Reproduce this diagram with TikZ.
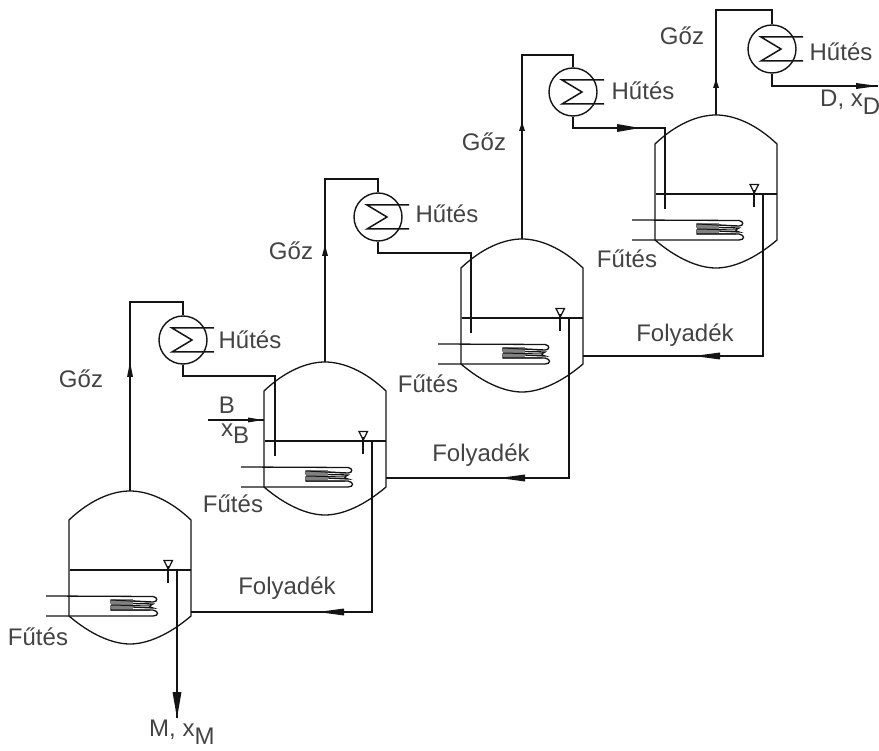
\documentclass[tikz,border=0pt]{standalone}
\usepackage{fontspec}
\setmainfont{Liberation Sans}
\usetikzlibrary{calc}
\definecolor{ink}{gray}{0.08}
\tikzset{
  pipe/.style={draw=ink,line width=1.5pt},
  shell/.style={draw=ink,line width=1.3pt},
  lbl/.style={font=\fontsize{24}{26}\selectfont,text=ink!80,inner sep=0pt},
  cond/.style={circle,draw=ink,line width=1.4pt,minimum size=48pt,inner sep=0pt}
}
% #1 name, #2 dx, #3 dy
\newcommand{\vessel}[3]{%
 \begin{scope}[shift={(#2,#3)}]
  \coordinate (#1top) at (130,491);
  \coordinate (#1lvlL) at (70,570);
  \coordinate (#1lvlR) at (191,570);
  \coordinate (#1pipe) at (177,570);
  \coordinate (#1feed) at (69,550);
  \draw[shell] (69,520) .. controls (90,500) and (112,491) .. (#1top) .. controls (148,491) and (170,500) .. (191,520)
    -- (191,616) .. controls (170,634) and (148,644) .. (130,644) .. controls (112,644) and (90,634) .. (69,616) -- cycle;
  \draw[pipe] (#1lvlL) -- (#1lvlR);
  % level mark
  \draw[pipe,line width=1.2pt] (164,560.5) -- (172.5,560.5) -- (168.2,569) -- cycle;
  \draw[pipe,line width=1.8pt] (168.2,566) -- (168.2,583);
  % heating coil
  \coordinate (#1coilA) at (46,596);
  \coordinate (#1coilB) at (46,616);
  \draw[pipe,line width=1.3pt] (#1coilA) -- (153,596.5) .. controls (158,597) and (158,602) .. (153,602) -- (111,600) -- (111,603) -- (153,604) .. controls (149,606) and (149,607) .. (153,608) -- (111,606) -- (111,610) -- (153,610) .. controls (159,611) and (159,616) .. (153,616) -- (#1coilB);
  \fill[gray] (111,599) rectangle (133,609);
  \draw[draw=ink,line width=1pt] (111,600) -- (150,602) (111,605) -- (150,606) (111,610) -- (150,610);
 \end{scope}}
% #1 name, #2 x, #3 y
\newcommand{\condenser}[3]{%
  \node[cond] (#1) at (#2,#3) {};
  \draw[pipe] ($(#1.center)+(31,-12)$) -- ($(#1.center)+(-11,-12)$) -- ($(#1.center)+(9,0)$) -- ($(#1.center)+(-11,12)$) -- ($(#1.center)+(31,12)$);
}
\begin{document}
\begin{tikzpicture}[x=1pt,y=-1pt]
\useasboundingbox (0,0) rectangle (879,751);
\vessel{a}{0}{0}
\vessel{b}{195}{-129}
\vessel{c}{392}{-252}
\vessel{d}{586}{-376}
\condenser{ca}{183}{340}
\condenser{cb}{378}{217}
\condenser{cc}{573}{92}
\condenser{cd}{772}{49}
% vapour lines
\draw[pipe] (atop) -- (atop|-0,302) -| (ca.north);
\draw[pipe] (btop) -- (btop|-0,179) -| (cb.north);
\draw[pipe] (ctop) -- (ctop|-0,55) -| (cc.north);
\draw[pipe] (dtop) -- (dtop|-0,10) -| (cd.north);
\foreach \v/\y/\l in {a/362/15,b/245/11,c/122/9,d/79/9}{
  \fill[ink] ($(\v top|-0,\y)+(-3,\l)$) -- ($(\v top|-0,\y)+(0,0)$) -- ($(\v top|-0,\y)+(3,\l)$) -- cycle;
}
% condensate returns
\coordinate (bin) at (275,456);
\coordinate (cin) at (471,333);
\coordinate (din) at (665,209);
\coordinate (dend) at (878,86);
\coordinate (aout) at (191,612);
\coordinate (bout) at (386,478);
\coordinate (cout) at (583,356);
\draw[pipe] (ca.south) |- (275,376) -- (bin);
\draw[pipe] (cb.south) |- (471,253) -- (cin);
\draw[pipe] (cc.south) |- (665,128) -- (din);
\draw[pipe] (cd.south) |- (dend);
\fill[ink] (617,124) -- (640,128) -- (617,132) -- cycle;
\fill[ink] (856,83) -- (878,86) -- (856,89) -- cycle;
% overflow lines
\coordinate (afoot) at (177,718);
\draw[pipe] (apipe) -- (afoot);
\fill[ink] (172.5,692) -- (177,718) -- (181.5,692) -- cycle;
\draw[pipe] (bpipe) |- (aout);
\draw[pipe] (cpipe) |- (bout);
\draw[pipe] (dpipe) |- (cout);
\fill[ink] (344,608.5) -- (318,612) -- (344,615.5) -- cycle;
\fill[ink] (525,474.5) -- (499,478) -- (525,481.5) -- cycle;
\fill[ink] (720,352.5) -- (694,356) -- (720,359.5) -- cycle;
% feed
\coordinate (fs) at (208,420);
\draw[pipe,line width=1.1pt] (fs) -- (bfeed|-fs);
\fill[ink] (248,417.5) -- (263,420) -- (248,422.5) -- cycle;
% labels
\node[lbl] (l1) at (81,379) {Gőz};
\node[lbl] (l2) at (291,251) {Gőz};
\node[lbl] (l3) at (484,142) {Gőz};
\node[lbl] (l4) at (682,36) {Gőz};
\node[lbl] (h1) at (250,340) {Hűtés};
\node[lbl] (h2) at (447,214) {Hűtés};
\node[lbl] (h3) at (643,91) {Hűtés};
\node[lbl] (h4) at (841,52) {Hűtés};
\node[lbl] (f1) at (38,637) {Fűtés};
\node[lbl] (f2) at (233,504) {Fűtés};
\node[lbl] (f3) at (428,384) {Fűtés};
\node[lbl] (f4) at (627,259) {Fűtés};
\node[lbl] (y1) at (287,588) {Folyadék};
\node[lbl] (y2) at (481,455) {Folyadék};
\node[lbl] (y3) at (685,335) {Folyadék};
\node[lbl] (nb) at (227,405) {B};
\node[lbl,anchor=base west] (nx) at (221,437) {x\raisebox{-7pt}{B}};
\node[lbl,anchor=base west] (nm) at (149,736) {M, x\raisebox{-8pt}{M}};
\node[lbl,anchor=base west] (nd) at (820,107) {D, x\raisebox{-8pt}{D}};
\end{tikzpicture}
\end{document}
